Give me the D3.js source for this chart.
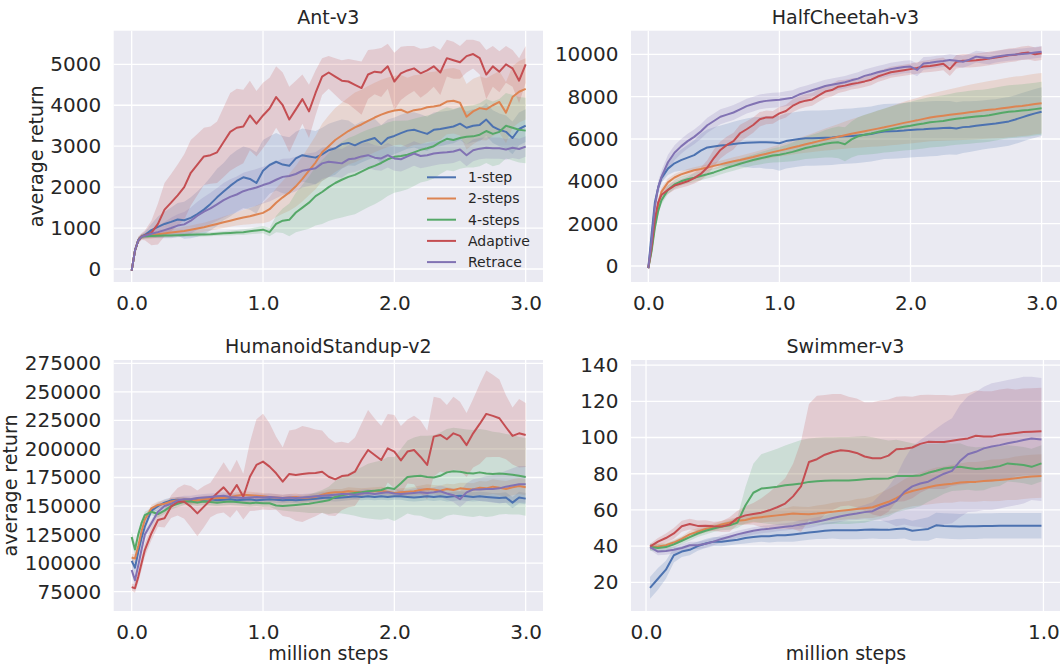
<!DOCTYPE html>
<html lang="en">
<head>
<meta charset="UTF-8">
<title>average return</title>
<script src="https://cdn.jsdelivr.net/npm/d3@7/dist/d3.min.js"></script>
<style>
    body { margin: 0; background: #ffffff; }
    svg text { font-family: "DejaVu Sans", sans-serif; fill: #262626; }
</style>
</head>
<body>
<div id="chart"></div>
<script>
    // x samples (million steps)
    var stepsLong = [0, 0.025, 0.05, 0.075, 0.1,
        0.15, 0.2, 0.25, 0.3, 0.35, 0.4, 0.45, 0.5, 0.55, 0.6,
        0.65, 0.7, 0.75, 0.8, 0.85, 0.9, 0.95, 1.0, 1.05, 1.1,
        1.15, 1.2, 1.25, 1.3, 1.35, 1.4, 1.45, 1.5, 1.55, 1.6,
        1.65, 1.7, 1.75, 1.8, 1.85, 1.9, 1.95, 2.0, 2.05, 2.1,
        2.15, 2.2, 2.25, 2.3, 2.35, 2.4, 2.45, 2.5, 2.55, 2.6,
        2.65, 2.7, 2.75, 2.8, 2.85, 2.9, 2.95, 3.0];
    var stepsSwimmer = [0.01, 0.03, 0.05, 0.07, 0.09, 0.11, 0.13, 0.15, 0.17, 0.19,
        0.21, 0.23, 0.25, 0.27, 0.29, 0.31, 0.33, 0.35, 0.37, 0.39,
        0.41, 0.43, 0.45, 0.47, 0.49, 0.51, 0.53, 0.55, 0.57, 0.59,
        0.61, 0.63, 0.65, 0.67, 0.69, 0.71, 0.73, 0.75, 0.77, 0.79,
        0.81, 0.83, 0.85, 0.87, 0.89, 0.91, 0.93, 0.95, 0.97, 0.995];

    var seriesNames = ['1-step', '2-steps', '4-steps', 'Adaptive', 'Retrace'];
    var palette = ['#4c72b0', '#dd8452', '#55a868', '#c44e52', '#8172b3'];

    // ---- Ant-v3 ----
    var antOne = [-40, 450, 700, 790, 830,
        950, 1030, 1100, 1150, 1210, 1190, 1250, 1340, 1450, 1590,
        1750, 1890, 2030, 2150, 2240, 2200, 2100, 2400, 2540, 2620,
        2550, 2520, 2700, 2780, 2750, 2720, 2800, 2900, 2950, 3050,
        3080, 3020, 3100, 3150, 3200, 3050, 3200, 3250, 3320, 3380,
        3400, 3350, 3300, 3400, 3420, 3450, 3480, 3550, 3450, 3500,
        3520, 3650, 3480, 3400, 3350, 3200, 3420, 3500];
    var antOneSd = [20, 60, 80, 60, 80,
        150, 250, 300, 350, 400, 450, 500, 550, 600, 650,
        700, 700, 750, 750, 750, 750, 750, 750, 700, 700,
        700, 700, 650, 650, 650, 650, 650, 650, 650, 600,
        550, 500, 500, 480, 470, 460, 450, 450, 450, 440,
        430, 430, 420, 420, 420, 410, 410, 400, 400, 400,
        400, 400, 400, 400, 400, 400, 400, 400];
    var antTwo = [-40, 450, 700, 790, 810,
        820, 850, 870, 890, 910, 930, 960, 990, 1020, 1060,
        1100, 1140, 1180, 1220, 1260, 1290, 1330, 1370, 1460, 1620,
        1750, 1870, 2020, 2200, 2400, 2600, 2850, 3000, 3150, 3260,
        3370, 3460, 3530, 3620, 3700, 3770, 3830, 3870, 3890, 3820,
        3880, 3900, 3950, 3970, 4000, 4090, 4110, 4060, 3720, 3850,
        3930, 3900, 4000, 4080, 3820, 4200, 4330, 4400];
    var antTwoSd = [20, 60, 80, 60, 70,
        80, 80, 90, 90, 100, 100, 100, 110, 110, 120,
        130, 140, 150, 160, 180, 200, 220, 250, 300, 350,
        400, 450, 500, 550, 600, 650, 700, 750, 780, 800,
        820, 850, 850, 850, 850, 850, 850, 850, 850, 850,
        850, 850, 850, 850, 850, 800, 800, 800, 800, 800,
        780, 760, 750, 750, 750, 750, 750, 750];
    var antFour = [-40, 450, 700, 790, 800,
        805, 810, 815, 820, 825, 830, 835, 840, 845, 850,
        860, 870, 880, 890, 900, 920, 940, 960, 900, 1100,
        1180, 1200, 1380, 1500, 1620, 1780, 1880, 2000, 2100, 2180,
        2250, 2300, 2380, 2460, 2520, 2590, 2680, 2740, 2760, 2790,
        2850, 2910, 2950, 3000, 3100, 3180, 3150, 3200, 3230, 3240,
        3280, 3370, 3300, 3350, 3500, 3450, 3400, 3380];
    var antFourSd = [20, 50, 60, 50, 50,
        50, 50, 50, 50, 50, 50, 50, 50, 50, 50,
        50, 50, 60, 60, 70, 70, 80, 90, 100, 200,
        300, 400, 480, 560, 640, 720, 780, 830, 880, 920,
        950, 960, 960, 950, 940, 920, 900, 880, 860, 840,
        820, 800, 800, 790, 780, 770, 760, 750, 750, 760,
        770, 780, 790, 800, 800, 800, 800, 800];
    var antAdaptive = [-40, 450, 700, 790, 820,
        880, 1100, 1450, 1620, 1800, 2000, 2350, 2550, 2750, 2780,
        2850, 3100, 3350, 3450, 3480, 3750, 3550, 3750, 3920, 4200,
        4000, 3650, 3900, 4150, 3850, 4300, 4700, 4800, 4700, 4600,
        4580, 4500, 4420, 4750, 4820, 4800, 4950, 4580, 4780, 4850,
        4900, 4780, 4850, 4950, 4800, 5150, 5100, 5050, 5200, 5250,
        5150, 4750, 4950, 4820, 5000, 4900, 4600, 5000];
    var antAdaptiveSd = [30, 60, 80, 80, 120,
        300, 500, 650, 700, 750, 800, 800, 750, 700, 700,
        750, 850, 950, 950, 900, 850, 800, 800, 750, 750,
        800, 800, 700, 600, 650, 550, 450, 400, 450, 500,
        550, 600, 650, 600, 550, 600, 550, 700, 650, 600,
        550, 600, 550, 500, 550, 450, 450, 400, 400, 350,
        400, 600, 500, 500, 450, 450, 550, 450];
    var antRetrace = [-40, 450, 700, 790, 810,
        860, 900, 950, 1000, 1060, 1090, 1180, 1300, 1400, 1480,
        1580, 1680, 1760, 1820, 1900, 1950, 1990, 2050, 2100, 2180,
        2250, 2270, 2320, 2400, 2430, 2460, 2580, 2620, 2600, 2580,
        2680, 2700, 2750, 2780, 2720, 2700, 2780, 2700, 2680, 2750,
        2820, 2760, 2780, 2820, 2840, 2850, 2870, 2920, 2780, 2900,
        2940, 2960, 2950, 2950, 2920, 2960, 2930, 2990];
    var antRetraceSd = [20, 50, 60, 50, 60,
        100, 150, 200, 250, 280, 300, 320, 340, 360, 380,
        400, 420, 430, 440, 450, 450, 450, 450, 450, 450,
        440, 430, 420, 410, 400, 390, 380, 370, 360, 350,
        340, 330, 320, 310, 300, 300, 300, 300, 300, 300,
        300, 300, 290, 290, 280, 280, 280, 270, 270, 270,
        260, 260, 260, 260, 250, 250, 250, 250];

    // ---- HalfCheetah-v3 ----
    var cheetahOne = [-100, 1500, 3000, 3700, 4150,
        4600, 4850, 5000, 5120, 5240, 5450, 5600, 5650, 5690, 5720,
        5760, 5800, 5820, 5830, 5840, 5840, 5830, 5800, 5900, 5950,
        6000, 6030, 6040, 6050, 6060, 6070, 6110, 6130, 6140, 6170,
        6200, 6240, 6300, 6350, 6370, 6380, 6400, 6430, 6450, 6460,
        6480, 6500, 6520, 6530, 6500, 6560, 6580, 6620, 6660, 6700,
        6730, 6780, 6830, 6920, 7020, 7120, 7210, 7290];
    var cheetahOneSd = [50, 150, 200, 200, 200,
        300, 400, 500, 600, 700, 800, 850, 900, 950, 1000,
        1050, 1100, 1150, 1200, 1200, 1250, 1250, 1300, 1300, 1300,
        1300, 1300, 1300, 1300, 1300, 1300, 1300, 1300, 1300, 1300,
        1300, 1300, 1300, 1300, 1300, 1300, 1300, 1300, 1300, 1300,
        1300, 1300, 1280, 1260, 1240, 1220, 1200, 1180, 1160, 1150,
        1150, 1150, 1150, 1150, 1150, 1150, 1150, 1150];
    var cheetahTwo = [-100, 800, 2000, 2900, 3500,
        3950, 4180, 4330, 4430, 4520, 4580, 4650, 4730, 4800, 4880,
        4950, 5010, 5080, 5150, 5230, 5300, 5380, 5450, 5520, 5600,
        5670, 5750, 5820, 5900, 5970, 6040, 6110, 6180, 6250, 6310,
        6370, 6430, 6490, 6550, 6620, 6690, 6760, 6820, 6880, 6950,
        7010, 7060, 7100, 7140, 7180, 7220, 7260, 7300, 7340, 7380,
        7410, 7450, 7490, 7530, 7560, 7600, 7650, 7690];
    var cheetahTwoSd = [50, 150, 200, 200, 200,
        180, 160, 150, 150, 150, 150, 150, 160, 170, 180,
        190, 200, 210, 220, 230, 240, 260, 280, 300, 330,
        360, 400, 440, 480, 520, 560, 600, 640, 680, 720,
        760, 800, 840, 880, 920, 960, 1000, 1030, 1060, 1090,
        1120, 1150, 1180, 1210, 1240, 1270, 1300, 1320, 1340, 1360,
        1380, 1400, 1410, 1420, 1420, 1430, 1430, 1430];
    var cheetahFour = [-100, 700, 1800, 2600, 3100,
        3600, 3850, 4000, 4100, 4170, 4250, 4330, 4420, 4530, 4640,
        4730, 4830, 4920, 5010, 5080, 5150, 5220, 5260, 5320, 5390,
        5480, 5570, 5640, 5700, 5770, 5820, 5840, 5750, 5980, 6130,
        6200, 6260, 6330, 6400, 6460, 6520, 6580, 6620, 6680, 6730,
        6790, 6820, 6850, 6910, 6960, 6990, 7030, 7060, 7080, 7120,
        7180, 7240, 7290, 7310, 7340, 7370, 7410, 7450];
    var cheetahFourSd = [50, 150, 200, 200, 200,
        200, 200, 200, 200, 200, 200, 200, 200, 210, 220,
        230, 240, 250, 260, 280, 300, 330, 360, 400, 440,
        480, 520, 560, 600, 650, 700, 750, 800, 850, 900,
        940, 980, 1010, 1040, 1070, 1100, 1120, 1140, 1160, 1180,
        1190, 1200, 1210, 1220, 1230, 1240, 1250, 1250, 1250, 1250,
        1250, 1250, 1250, 1250, 1250, 1250, 1250, 1250];
    var cheetahAdaptive = [-100, 900, 2200, 3000, 3350,
        3600, 3800, 3900, 4000, 4150, 4350, 4650, 5100, 5480, 5720,
        5900, 6270, 6460, 6660, 6930, 7020, 7020, 7210, 7320, 7560,
        7720, 7810, 7870, 8060, 8240, 8310, 8470, 8520, 8600, 8650,
        8720, 8800, 8950, 9050, 9150, 9200, 9250, 9300, 9350, 9420,
        9450, 9500, 9550, 9300, 9650, 9700, 9700, 9720, 9750, 9800,
        9850, 9900, 9950, 9980, 10050, 10080, 10000, 10050];
    var cheetahAdaptiveSd = [50, 150, 200, 200, 200,
        200, 200, 200, 220, 250, 300, 350, 400, 400, 400,
        400, 400, 380, 360, 340, 320, 300, 300, 300, 300,
        300, 300, 300, 300, 300, 300, 300, 280, 260, 260,
        260, 260, 260, 260, 260, 260, 260, 260, 270, 280,
        290, 300, 300, 320, 320, 320, 320, 320, 320, 320,
        320, 320, 320, 320, 320, 320, 320, 320];
    var cheetahRetrace = [-100, 1200, 2800, 3700, 4200,
        4900, 5350, 5650, 5900, 6100, 6350, 6650, 6850, 7050, 7150,
        7250, 7400, 7550, 7650, 7750, 7800, 7830, 7850, 7900, 7950,
        8100, 8200, 8300, 8400, 8500, 8560, 8620, 8680, 8770, 8850,
        8980, 9060, 9150, 9220, 9300, 9350, 9400, 9420, 9260, 9570,
        9600, 9650, 9680, 9730, 9700, 9650, 9750, 9890, 9850, 9810,
        9880, 9930, 9970, 9990, 10010, 10040, 10080, 10120];
    var cheetahRetraceSd = [50, 150, 250, 300, 300,
        350, 350, 350, 350, 350, 350, 350, 350, 350, 350,
        350, 350, 350, 350, 350, 350, 350, 350, 350, 350,
        330, 320, 310, 300, 300, 300, 300, 300, 300, 300,
        300, 300, 300, 300, 300, 300, 300, 300, 300, 300,
        280, 280, 280, 280, 280, 280, 280, 280, 280, 280,
        270, 270, 270, 270, 270, 270, 270, 270];

    // ---- HumanoidStandup-v2 ----
    var humanoidOne = [102000, 96000, 110000, 122000, 132000,
        146000, 150000, 153000, 155000, 155500, 155000, 154500, 155000, 155500, 156000,
        155000, 155500, 156000, 155000, 155500, 156000, 155000, 155500, 156000, 155500,
        155000, 155500, 155000, 155500, 156000, 156500, 157000, 157500, 157000, 157500,
        158000, 158500, 158000, 158500, 158000, 158500, 158000, 158500, 158500, 158000,
        157500, 158000, 158500, 158000, 158500, 158000, 158500, 159000, 158500, 158000,
        158500, 158000, 157500, 157000, 157500, 153000, 157500, 156500];
    var humanoidOneSd = [4000, 5000, 5000, 5000, 4000,
        3000, 3000, 3000, 2500, 2500, 2500, 2500, 2500, 2500, 2500,
        2500, 2500, 2500, 2500, 2500, 2500, 2500, 2500, 2500, 2500,
        2500, 2500, 2500, 2500, 2500, 3000, 3000, 3000, 3000, 3000,
        3000, 3000, 3000, 3000, 3000, 3000, 3000, 3000, 3000, 3500,
        3500, 3500, 3500, 3500, 3500, 4000, 4000, 4000, 4000, 4000,
        4000, 4000, 4000, 4500, 4500, 5000, 5000, 5000];
    var humanoidTwo = [105000, 104000, 115000, 128000, 138000,
        148000, 151000, 152000, 154000, 155000, 155000, 154000, 155000, 156000, 156500,
        157000, 157000, 158000, 159000, 160000, 159500, 159000, 158500, 158000, 157500,
        157000, 157500, 158000, 157000, 157500, 158000, 160000, 161500, 162000, 162000,
        163000, 162500, 162000, 162500, 163000, 163500, 162500, 161500, 162000, 162500,
        163000, 164000, 165000, 164500, 163500, 165000, 164000, 165500, 165000, 164500,
        166000, 165500, 167000, 166000, 165000, 166500, 167500, 166500];
    var humanoidTwoSd = [3000, 4000, 4000, 4000, 3000,
        3000, 3000, 3000, 3000, 3000, 3000, 3000, 3000, 3000, 3000,
        3000, 3000, 3000, 3000, 3000, 3000, 3000, 3000, 3000, 3000,
        3000, 3000, 3000, 3000, 3000, 3000, 3000, 3000, 3000, 3000,
        3500, 3500, 3500, 3500, 3500, 3500, 3500, 3500, 3500, 3500,
        4000, 4000, 4000, 4000, 4500, 4500, 5000, 5000, 5500, 5500,
        6000, 6000, 6500, 6500, 7000, 7000, 7000, 7000];
    var humanoidFour = [123000, 112000, 125000, 135000, 142000,
        145000, 143000, 146000, 150000, 152000, 154000, 154000, 153000, 154000, 153500,
        153000, 153500, 154000, 153500, 153000, 152500, 153000, 152500, 152500, 150500,
        150000, 150500, 151000, 151500, 152000, 153000, 154000, 155000, 158000, 159500,
        160500, 161500, 162000, 163000, 163500, 164000, 166000, 165000, 170000, 175500,
        176000, 176500, 175500, 175000, 176500, 179500, 180500, 180000, 179000, 178500,
        179500, 178500, 178000, 178500, 178000, 177500, 176500, 175500];
    var humanoidFourSd = [5000, 5000, 4000, 3000, 3000,
        3000, 3000, 3000, 3000, 3000, 3000, 3000, 3000, 3000, 3000,
        3000, 3000, 3000, 3000, 3000, 3000, 3000, 3000, 3000, 3500,
        4000, 5000, 6000, 7000, 8000, 9000, 10000, 12000, 14000, 16000,
        18000, 20000, 22000, 24000, 25000, 26000, 27000, 28000, 30000, 32000,
        34000, 35000, 36000, 37000, 38000, 38000, 38000, 38000, 38000, 38000,
        38000, 38000, 37000, 36000, 35000, 35000, 34000, 34000];
    var humanoidAdaptive = [79000, 78000, 88000, 100000, 111500,
        126000, 137800, 139300, 149500, 153800, 153800, 149500, 143600, 149500, 155300,
        161200, 166400, 159700, 168500, 158200, 175700, 186000, 188900, 184500, 178700,
        171400, 178100, 177200, 178000, 178700, 179000, 180100, 175700, 173400, 176300,
        177000, 180100, 190300, 199100, 194700, 190300, 200600, 197700, 190000, 197700,
        199100, 193000, 186000, 210800, 212300, 208500, 213700, 211400, 203400, 213700,
        221900, 230700, 229000, 226900, 219000, 211400, 213700, 212300];
    var humanoidAdaptiveSd = [3000, 4000, 5000, 6000, 6000,
        6000, 6000, 8000, 10000, 12000, 15000, 18000, 20000, 18000, 15000,
        18000, 22000, 20000, 22000, 20000, 30000, 40000, 42000, 38000, 32000,
        30000, 38000, 40000, 42000, 40000, 38000, 36000, 34000, 32000, 30000,
        28000, 30000, 32000, 35000, 32000, 30000, 30000, 32000, 30000, 28000,
        30000, 32000, 30000, 35000, 32000, 30000, 32000, 30000, 28000, 30000,
        35000, 38000, 36000, 34000, 28000, 25000, 30000, 28000];
    var humanoidRetrace = [94000, 85000, 98000, 112000, 125000,
        135000, 145000, 150000, 152000, 155000, 156000, 156000, 157000, 157500, 158000,
        158500, 159000, 158000, 157500, 157000, 157500, 158000, 157500, 158000, 157500,
        157000, 157500, 157000, 157500, 158000, 158500, 159000, 159500, 160000, 160500,
        160500, 160000, 161000, 161500, 160500, 161500, 162000, 161000, 160500, 161000,
        161500, 162000, 161500, 162000, 163000, 161000, 159500, 156000, 162000, 164500,
        164500, 165000, 165000, 165500, 167000, 168000, 169000, 169000];
    var humanoidRetraceSd = [4000, 5000, 5000, 5000, 4000,
        3000, 3000, 3000, 3000, 3000, 3000, 3000, 3000, 3000, 3000,
        3000, 3000, 3000, 3000, 3000, 3000, 3000, 3000, 3000, 3000,
        3000, 3000, 3000, 3000, 3000, 3000, 3000, 3000, 3000, 3000,
        3500, 3500, 3500, 3500, 3500, 3500, 3500, 3500, 3500, 3500,
        4000, 4000, 4000, 4500, 5000, 5500, 6000, 7000, 8000, 9000,
        10000, 11000, 12000, 13000, 14000, 15000, 16000, 16000];

    // ---- Swimmer-v3 ----
    var swimmerOne = [17, 22, 27, 35, 37, 38, 40, 41.5, 42.5, 42.5,
        43, 43.5, 44.5, 45, 45.5, 45.5, 46, 46, 46.5, 47,
        47.5, 48, 48.5, 48.8, 48.8, 48.8, 48.8, 49, 49.2, 49,
        49, 49.5, 49.8, 48.5, 49, 49.5, 51.5, 51.2, 51, 50.8,
        51, 51, 51.2, 51.2, 51.3, 51.3, 51.3, 51.3, 51.3, 51.3];
    var swimmerOneSd = [6, 6, 5, 4, 3, 3, 2.5, 2.5, 2.5, 2.5,
        2.5, 2.5, 3, 3, 3, 3.5, 3.5, 3.5, 4, 4,
        4, 4, 4.5, 4.5, 5, 5, 5, 5, 5, 5,
        5, 5.5, 5.5, 5.5, 6, 6.5, 7, 7, 7, 7,
        7, 7, 7, 7, 7, 7, 7, 7, 7, 7];
    var swimmerTwo = [39.5, 39.8, 40.5, 42, 44, 46.5, 48, 49.5, 50.5, 52,
        53, 54, 54.5, 55.5, 56, 56.5, 57, 57.5, 58, 57.8,
        57.6, 58, 58.5, 59, 59.5, 60, 60.5, 61, 61.5, 63,
        64.5, 66.5, 69, 70.5, 71.5, 72.5, 73.5, 74, 74.5, 75.2,
        75.5, 75.5, 76, 76.3, 76.5, 77, 77.5, 78, 78.5, 78.7];
    var swimmerTwoSd = [1.5, 1.5, 1.5, 1.5, 1.5, 2, 2, 2, 2, 2,
        2, 2, 2.5, 2.5, 3, 3, 3.5, 3.5, 4, 4,
        4, 4.5, 4.5, 5, 5, 5, 5.5, 5.5, 6, 6.5,
        7, 7.5, 8, 8.5, 9, 9.5, 10, 10, 10.5, 10.5,
        11, 11, 11, 11.5, 11.5, 11.5, 12, 12, 12, 12];
    var swimmerFour = [39.5, 39, 39.5, 41, 43, 45, 47, 48.5, 49.8, 50.8,
        51.5, 53, 62.5, 69.5, 71.8, 72.3, 72.8, 73.6, 74.1, 74.6,
        75.5, 75.8, 76.1, 76.2, 76.3, 76.3, 76.6, 76.9, 77.2, 77.2,
        77.4, 78.7, 78.8, 78.8, 79, 80.5, 81.6, 82.9, 83.5, 83.8,
        83.2, 82.6, 82.9, 83.5, 84.2, 85.7, 85.3, 84.8, 83.8, 85.7];
    var swimmerFourSd = [2, 2, 2, 2, 2, 2, 2, 2, 2, 2,
        2.5, 3, 10, 16, 19, 20, 21, 22, 23, 24,
        24, 24, 24, 24, 24, 24, 24, 24, 23, 22,
        21, 20, 19, 18, 17, 16, 15, 14, 13, 13,
        12, 12, 12, 11, 11, 10, 10, 10, 10, 10];
    var swimmerAdaptive = [39.7, 42.5, 44.5, 47, 51, 52.2, 51.2, 51.3, 51, 50.8,
        52, 55.5, 57, 57.8, 58.5, 59.8, 61.5, 63.5, 67.5, 73,
        86.5, 88, 90.5, 92, 93, 92.5, 91.5, 89.5, 88.5, 88.5,
        90, 93.5, 93.8, 94.5, 96.5, 97.6, 97.5, 97.5, 98.2, 98.9,
        99.5, 101, 100.5, 100.5, 101.5, 102, 102.5, 103, 103.2, 103.5];
    var swimmerAdaptiveSd = [1.5, 2, 2.5, 3, 3, 3, 3, 3, 2.5, 3,
        4, 4, 5, 6, 8, 10, 12, 14, 18, 25,
        32, 35, 33, 32, 31, 30, 30, 30, 31, 32,
        31, 29, 29, 28, 27, 26, 26, 26, 25, 25,
        25, 25, 25, 25, 25, 25, 24, 24, 24, 24];
    var swimmerRetrace = [39.5, 37, 37.3, 38, 39, 40.5, 40.5, 41.3, 42.5, 44,
        45.2, 46.5, 47.5, 48.5, 49.2, 49.6, 50.2, 50.7, 51.2, 52,
        52.6, 53.5, 54.5, 55.5, 56.5, 57.3, 58, 58.8, 59.3, 61.5,
        63, 65, 70, 73, 74.6, 75.6, 77.8, 80, 81.6, 87,
        90.8, 92.1, 94, 95, 95.8, 96.8, 97.6, 98.6, 99.5, 98.9];
    var swimmerRetraceSd = [1.5, 2, 2, 2, 2, 2, 2, 2, 2, 2,
        2, 2, 2, 2, 2, 2, 2, 2, 2, 2.5,
        2.5, 2.5, 2.5, 3, 3, 3, 3.5, 4, 5, 7,
        10, 14, 18, 22, 24, 26, 27, 28, 29, 31,
        32, 33, 34, 35, 35, 35, 35, 35, 34, 34];

    // tick values
    var ticksThree = [0, 1, 2, 3];
    var ticksOne = [0, 1];
    var antTicks = [0, 1000, 2000, 3000, 4000, 5000];
    var cheetahTicks = [0, 2000, 4000, 6000, 8000, 10000];
    var humanoidTicks = [75000, 100000, 125000, 150000, 175000, 200000, 225000, 250000, 275000];
    var swimmerTicks = [20, 40, 60, 80, 100, 120, 140];

    var panels = [
        {title: 'Ant-v3', steps: stepsLong, xTicks: ticksThree, yTicks: antTicks,
            box: [113.7, 30.7, 543, 282], xDomain: [-0.137, 3.132], yDomain: [-318, 5821],
            ylabel: 'average return', ylabelX: 43, xlabel: null, legend: true,
            series: [[antOne, antOneSd], [antTwo, antTwoSd], [antFour, antFourSd],
                [antAdaptive, antAdaptiveSd], [antRetrace, antRetraceSd]]},
        {title: 'HalfCheetah-v3', steps: stepsLong, xTicks: ticksThree, yTicks: cheetahTicks,
            box: [631, 30.7, 1061, 282], xDomain: [-0.132, 3.148], yDomain: [-756, 11115],
            ylabel: null, xlabel: null, legend: false,
            series: [[cheetahOne, cheetahOneSd], [cheetahTwo, cheetahTwoSd], [cheetahFour, cheetahFourSd],
                [cheetahAdaptive, cheetahAdaptiveSd], [cheetahRetrace, cheetahRetraceSd]]},
        {title: 'HumanoidStandup-v2', steps: stepsLong, xTicks: ticksThree, yTicks: humanoidTicks,
            box: [113.7, 360, 543, 611], xDomain: [-0.137, 3.132], yDomain: [58100, 277900],
            ylabel: 'average return', ylabelX: 17, xlabel: 'million steps', legend: false,
            series: [[humanoidOne, humanoidOneSd], [humanoidTwo, humanoidTwoSd], [humanoidFour, humanoidFourSd],
                [humanoidAdaptive, humanoidAdaptiveSd], [humanoidRetrace, humanoidRetraceSd]]},
        {title: 'Swimmer-v3', steps: stepsSwimmer, xTicks: ticksOne, yTicks: swimmerTicks,
            box: [631, 360, 1061, 611], xDomain: [-0.0378, 1.0442], yDomain: [4.2, 142.8],
            ylabel: null, xlabel: 'million steps', legend: false,
            series: [[swimmerOne, swimmerOneSd], [swimmerTwo, swimmerTwoSd], [swimmerFour, swimmerFourSd],
                [swimmerAdaptive, swimmerAdaptiveSd], [swimmerRetrace, swimmerRetraceSd]]}
    ];

    var svg = d3.select('#chart')
        .append('svg')
        .attr('width', 1060)
        .attr('height', 664);

    panels.forEach(function (p, pi) {
        var left = p.box[0], top = p.box[1], right = p.box[2], bottom = p.box[3];
        var x = d3.scaleLinear().domain(p.xDomain).range([left, right]);
        var y = d3.scaleLinear().domain(p.yDomain).range([bottom, top]);
        var g = svg.append('g');

        g.append('rect')
            .attr('x', left).attr('y', top)
            .attr('width', right - left).attr('height', bottom - top)
            .attr('fill', '#eaeaf2');

        var clipId = 'clip' + pi;
        g.append('clipPath').attr('id', clipId)
            .append('rect')
            .attr('x', left).attr('y', top)
            .attr('width', right - left).attr('height', bottom - top);

        // grid
        g.selectAll('.gx').data(p.xTicks).enter().append('line')
            .attr('x1', function (d) { return x(d); })
            .attr('x2', function (d) { return x(d); })
            .attr('y1', top).attr('y2', bottom)
            .attr('stroke', '#ffffff').attr('stroke-width', 1.3);
        g.selectAll('.gy').data(p.yTicks).enter().append('line')
            .attr('y1', function (d) { return y(d); })
            .attr('y2', function (d) { return y(d); })
            .attr('x1', left).attr('x2', right)
            .attr('stroke', '#ffffff').attr('stroke-width', 1.3);

        var plot = g.append('g').attr('clip-path', 'url(#' + clipId + ')');

        // bands first, lines on top
        p.series.forEach(function (s, si) {
            var area = d3.area()
                .x(function (d, i) { return x(p.steps[i]); })
                .y0(function (d, i) { return y(d - s[1][i]); })
                .y1(function (d, i) { return y(d + s[1][i]); });
            plot.append('path')
                .attr('d', area(s[0]))
                .attr('fill', palette[si])
                .attr('fill-opacity', 0.2);
        });
        p.series.forEach(function (s, si) {
            var line = d3.line()
                .x(function (d, i) { return x(p.steps[i]); })
                .y(function (d) { return y(d); });
            plot.append('path')
                .attr('d', line(s[0]))
                .attr('fill', 'none')
                .attr('stroke', palette[si])
                .attr('stroke-width', 2)
                .attr('stroke-linejoin', 'round');
        });

        // tick labels
        var ax = g.append('g')
            .attr('transform', 'translate(0,' + bottom + ')')
            .call(d3.axisBottom(x).tickValues(p.xTicks).tickSize(0).tickPadding(13.8)
                .tickFormat(d3.format('.1f')));
        ax.select('.domain').remove();
        ax.selectAll('text').attr('font-size', 20).attr('font-family', '"DejaVu Sans", sans-serif');

        var ay = g.append('g')
            .attr('transform', 'translate(' + left + ',0)')
            .call(d3.axisLeft(y).tickValues(p.yTicks).tickSize(0).tickPadding(12.5)
                .tickFormat(d3.format('d')));
        ay.select('.domain').remove();
        ay.selectAll('text').attr('font-size', 20).attr('font-family', '"DejaVu Sans", sans-serif');

        var cx = (left + Math.min(right, 1060 + (right - 1060))) / 2;
        g.append('text')
            .attr('x', (left + right) / 2 - (right > 1060 ? 0.5 : 0))
            .attr('y', top - 7)
            .attr('text-anchor', 'middle')
            .attr('font-size', 19)
            .text(p.title);

        if (p.ylabel) {
            g.append('text')
                .attr('transform', 'translate(' + p.ylabelX + ',' + (top + bottom) / 2 + ') rotate(-90)')
                .attr('text-anchor', 'middle')
                .attr('font-size', 19)
                .text(p.ylabel);
        }
        if (p.xlabel) {
            g.append('text')
                .attr('x', (left + right) / 2)
                .attr('y', 660)
                .attr('text-anchor', 'middle')
                .attr('font-size', 19)
                .text(p.xlabel);
        }

        if (p.legend) {
            var lg = g.append('g').attr('transform', 'translate(427,177.3)');
            var rows = lg.selectAll('g').data(seriesNames).enter().append('g')
                .attr('transform', function (d, i) { return 'translate(0,' + i * 21.2 + ')'; });
            rows.append('line')
                .attr('x1', 0).attr('x2', 29)
                .attr('stroke', function (d, i) { return palette[i]; })
                .attr('stroke-width', 2);
            rows.append('text')
                .attr('x', 41).attr('dy', '0.35em')
                .attr('font-size', 14)
                .text(function (d) { return d; });
        }
    });
</script>
</body>
</html>
